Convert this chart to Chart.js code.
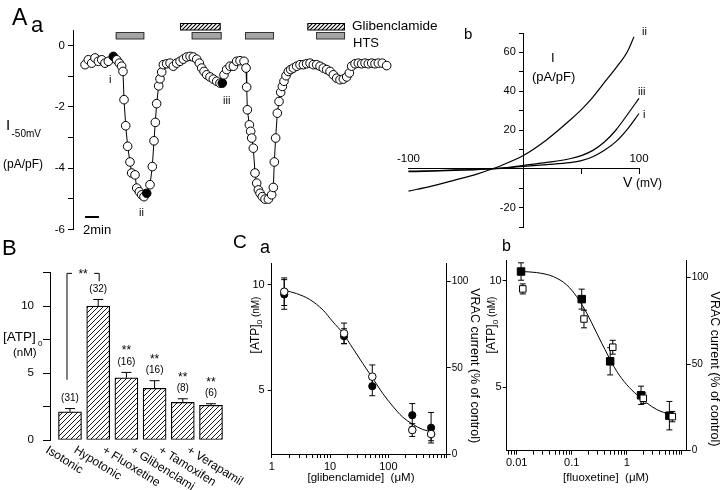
<!DOCTYPE html>
<html><head><meta charset="utf-8">
<script src="https://cdn.jsdelivr.net/npm/chart.js@4.4.1/dist/chart.umd.min.js"></script>
<style>
html,body{margin:0;padding:0;background:#fff;}
#wrap{position:relative;width:720px;height:490px;overflow:hidden;background:#fff;}
canvas{position:absolute;left:0;top:0;}
</style></head><body><div id="wrap"></div>
<script>
// ===== Panel A a : I(-50 mV) time course =====
const timeA = [0.29,0.76,1.24,1.71,2.19,2.67,3.14,3.62,4.33,4.81,
5.19,5.52,5.71,5.86,6.10,6.38,6.71,6.95,7.43,7.67,
8.05,8.38,8.71,9.10,9.57,9.90,10.14,10.33,10.52,10.81,
11.00,11.24,11.48,11.95,12.43,12.90,13.38,13.86,14.33,14.81,
15.29,15.76,16.24,16.62,16.95,17.29,17.67,18.14,18.62,19.10,
19.57,19.90,20.14,20.52,21.00,21.48,21.95,22.43,23.00,23.29,
23.38,23.48,23.76,23.95,24.10,24.33,24.57,24.81,25.05,25.29,
25.62,26.00,26.48,26.95,27.19,27.33,27.52,27.76,28.00,28.24,
28.48,28.71,29.00,29.33,29.67,30.05,30.52,31.00,31.48,31.95,
32.43,32.90,33.38,33.86,34.33,34.81,35.29,35.76,36.24,36.71,
37.19,37.67,38.05,38.38,38.86,39.33,39.81,40.29,40.76,41.24,
41.71,42.19,42.76,43.38];
const currentA = [-0.63,-0.47,-0.58,-0.41,-0.52,-0.47,-0.58,-0.52,-0.36,-0.47,
-0.58,-0.68,-0.85,-1.77,-2.62,-3.29,-3.80,-4.16,-4.22,-4.65,
-4.77,-4.87,-4.93,-4.82,-4.54,-3.95,-3.11,-2.51,-1.90,-1.32,
-1.09,-0.87,-0.63,-0.60,-0.58,-0.68,-0.58,-0.52,-0.45,-0.38,
-0.36,-0.38,-0.45,-0.58,-0.74,-0.85,-0.96,-1.03,-1.10,-1.17,
-1.23,-1.23,-0.96,-0.79,-0.68,-0.68,-0.52,-0.50,-0.52,-0.74,
-1.36,-2.10,-2.59,-2.80,-3.02,-3.35,-4.16,-4.49,-4.71,-4.82,
-4.93,-5.01,-5.01,-4.87,-4.63,-3.80,-3.02,-2.21,-1.83,-1.53,
-1.34,-1.17,-0.99,-0.85,-0.79,-0.74,-0.68,-0.63,-0.63,-0.60,
-0.58,-0.63,-0.63,-0.68,-0.74,-0.79,-0.85,-0.96,-1.07,-1.12,
-1.10,-1.03,-0.90,-0.68,-0.60,-0.58,-0.60,-0.58,-0.60,-0.58,
-0.60,-0.58,-0.58,-0.66];
const markedA = [8, 23, 51];           // filled points i, ii, iii
const htsPeriods = [[4.67,8.76],[15.52,19.81],[23.14,27.29],[33.29,37.43]];
const glibPeriods = [[13.86,19.67],[32.05,37.43]];
const scaleBarMin = 2;
const yTicksA = [-6,-5,-4,-3,-2,-1,0];
const yTickLabelsA = [-6,-4,-2,0];

// ===== Panel A b : I-V curves =====
const vII = [-100,-80,-60,-40,-27,-20,0,20,40,50,60,70,80,90,95.6];
const iII = [-11.5,-8.9,-5.8,-2.6,0,1.6,7,15,25,30.5,37,44.5,52,60.5,68];
const vI  = [-100,-80,-60,-40,-20,0,20,40,50,60,70,80,90,100];
const iI   = [-1.5,-1.2,-0.8,-0.4,0.2,1.3,2.2,3.2,4.2,6.2,9.5,14,20.5,28.5];
const iIII = [-1.2,-1.0,-0.6,-0.3,0.3,1.8,3.3,5.2,6.8,9.5,13.8,20,28,36.3];
const yTicksAb = [-30,-20,-10,10,20,30,40,50,60,70];
const yTickLabelsAb = [60,40,20,-20];
const xTicksAb = [50,100];
const xTickLabelsAb = [-100,100];

// ===== Panel B : [ATP]o bars =====
const categoriesB = ['Isotonic','Hypotonic','+ Fluoxetine','+ Glibenclami','+ Tamoxifen','+ Verapamil'];
const atpB = [2.1, 10.0, 4.65, 3.86, 2.81, 2.59];
const errB = [0.25, 0.5, 0.4, 0.57, 0.27, 0.12];
const nB = ['(31)','(32)','(16)','(16)','(8)','(6)'];
const sigB = ['','','**','**','**','**'];
const yTicksB = [0,2.5,5,7.5,10,12.5];
const yTickLabelsB = [0,5,10];

// ===== Panel C a : glibenclamide =====
const glibConc = [1.64, 17.4, 53, 257, 540];
const glibATP = [9.53, 7.56, 5.2, 3.83, 3.24];
const glibATPerr = [0.7, 0.35, 0.45, 0.55, 0.72];
const glibVRAC = [94.2, 70.0, 44.9, 13.9, 11.6];
const glibVRACerr = [8, 6, 6.8, 3.7, 3.9];
const fitGlibX = [1.64,2.67,4.5,7.6,11.2,16.7,24.7,36.5,54,80,118.5,175,260,385,570];
const fitGlibY = [9.73,9.57,9.29,8.79,8.24,7.69,6.98,6.27,5.57,4.86,4.26,3.75,3.41,3.16,3.05];
const xTickValsCa = [1,10,100];
const xTickLabelsCa = ['1','10','100'];

// ===== Panel C b : fluoxetine =====
const fluoConcATP = [0.012, 0.152, 0.50, 1.82, 5.96];
const fluoATP = [10.44, 9.14, 6.21, 4.61, 3.65];
const fluoATPerr = [0.41, 0.47, 0.64, 0.43, 0.67];
const fluoConcVRAC = [0.0129, 0.167, 0.557, 2.0, 6.74];
const fluoVRAC = [93.5, 76.1, 59.8, 30.3, 19.7];
const fluoVRACerr = [2.9, 5.1, 4, 3, 3];
const fitFluoX = [0.012,0.0231,0.0464,0.081,0.123,0.1875,0.285,0.433,0.658,1.0,1.52,2.31,3.51,6.14];
const fitFluoY = [10.44,10.39,10.2,9.81,9.26,8.48,7.54,6.6,5.74,5.11,4.64,4.25,3.94,3.70];
const xTickValsCb = [0.01,0.1,1];
const xTickLabelsCb = ['0.01','0.1','1'];

const yTicksC = [5,10];
const y2TicksC = [0,50,100];

// ===== helpers =====
const FONT = "'Liberation Sans', Arial, Helvetica, sans-serif";
Chart.defaults.font.family = FONT;
Chart.defaults.color = '#000';

function mkCanvas(){ const c=document.createElement('canvas'); c.width=720; c.height=490; c.style.width='720px'; c.style.height='490px'; document.getElementById('wrap').appendChild(c); return c; }
// plot rectangle (l,t,r,b) in page px, with reserved axis sizes lw (left), rw (right), bh (bottom)
function pad(l,t,r,b,lw,rw,bh){ return {left:l-(lw||0), top:t, right:720-r-(rw||0), bottom:490-b-(bh||0)}; }
function T(ctx, s, x, y, size, o){ o=o||{}; ctx.save(); ctx.font=(o.weight||'normal')+' '+size+'px '+FONT; ctx.fillStyle='#000'; ctx.textAlign=o.align||'left'; ctx.textBaseline=o.baseline||'alphabetic'; if(o.rotate){ctx.translate(x,y);ctx.rotate(o.rotate);ctx.fillText(s,0,0);} else ctx.fillText(s,x,y); ctx.restore(); }
const setW = w => s => { s.width = w; };
const setH = h => s => { s.height = h; };
const fixTicks = arr => s => { s.ticks = arr.map(v=>({value:v})); };
const near = (a,b) => Math.abs(a-b) < 1e-9*Math.max(1,Math.abs(b));
function labelFrom(vals, labels){ return v => { const i = vals.findIndex(t=>near(v,t)); return i>=0 ? String(labels[i]) : ''; }; }
function axisStyle(tl){ return { border:{display:true,color:'#000',width:1}, grid:{display:true, drawOnChartArea:false, drawTicks:true, tickLength:tl, color:'#000', lineWidth:1} }; }
function logTicks(min,max){ const out=[]; for(let e=-4;e<=4;e++){ for(let m=1;m<=9;m++){ const v=parseFloat((m*Math.pow(10,e)).toPrecision(6)); if(v>=min-1e-12 && v<=max+1e-12) out.push(v);} } return out; }
function baseOpts(padding, scales){ return {responsive:false, animation:false, events:[], layout:{padding}, plugins:{legend:{display:false}, tooltip:{enabled:false}}, scales}; }
function hatch(size, lw){ const c=document.createElement('canvas'); c.width=size; c.height=size; const g=c.getContext('2d'); g.fillStyle='#fff'; g.fillRect(0,0,size,size); g.strokeStyle='#000'; g.lineWidth=lw; g.beginPath(); g.moveTo(-1,size+1); g.lineTo(size+1,-1); g.moveTo(-1,1); g.lineTo(1,-1); g.moveTo(size-1,size+1); g.lineTo(size+1,size-1); g.stroke(); return g.createPattern(c,'repeat'); }
const hatchA = hatch(4, 1.1);
const hatchB = hatch(5, 0.9);
function errBars(ctx, xs, ys, X, Y, E, cap){ ctx.save(); ctx.strokeStyle='#000'; ctx.lineWidth=1; X.forEach((xv,i)=>{ const px=xs.getPixelForValue(xv), y1=ys.getPixelForValue(Y[i]-E[i]), y2=ys.getPixelForValue(Y[i]+E[i]); ctx.beginPath(); ctx.moveTo(px,y1); ctx.lineTo(px,y2); ctx.moveTo(px-cap,y1); ctx.lineTo(px+cap,y1); ctx.moveTo(px-cap,y2); ctx.lineTo(px+cap,y2); ctx.stroke(); }); ctx.restore(); }
function atpLabel(ctx, cx, cy){ ctx.save(); ctx.translate(cx,cy); ctx.rotate(-Math.PI/2); ctx.textBaseline='middle'; ctx.fillStyle='#000';
  ctx.font='12px '+FONT; const w1=ctx.measureText('[ATP]').width; ctx.font='8px '+FONT; const w2=ctx.measureText('0').width; ctx.font='10px '+FONT; const w3=ctx.measureText(' (nM)').width;
  let x=-(w1+w2+w3)/2; ctx.font='12px '+FONT; ctx.fillText('[ATP]',x,0); x+=w1; ctx.font='8px '+FONT; ctx.fillText('0',x,4); x+=w2; ctx.font='10px '+FONT; ctx.fillText(' (nM)',x,0); ctx.restore(); }

// ===== Chart A a =====
const annAa = { id:'annAa', afterDraw(chart){
  const ctx=chart.ctx, xs=chart.scales.x;
  glibPeriods.forEach(([a,b])=>{ const x1=xs.getPixelForValue(a), x2=xs.getPixelForValue(b); ctx.save(); ctx.fillStyle=hatchA; ctx.fillRect(x1,23.5,x2-x1,6.5); ctx.strokeStyle='#000'; ctx.lineWidth=1; ctx.strokeRect(x1+0.5,23.5,x2-x1-1,6.5); ctx.restore(); });
  htsPeriods.forEach(([a,b])=>{ const x1=xs.getPixelForValue(a), x2=xs.getPixelForValue(b); ctx.save(); ctx.fillStyle='#a4a4a4'; ctx.fillRect(x1,32.5,x2-x1,6.5); ctx.strokeStyle='#333'; ctx.lineWidth=1; ctx.strokeRect(x1+0.5,32.5,x2-x1-1,6.5); ctx.restore(); });
  const sb0 = 85, sbw = xs.getPixelForValue(scaleBarMin)-xs.getPixelForValue(0);
  ctx.save(); ctx.fillStyle='#000'; ctx.fillRect(sb0,216,sbw,2); ctx.restore();
  T(ctx,'A',12,25,23); T(ctx,'a',31,31.5,22);
  T(ctx,'I',6,130,15); T(ctx,'-50mV',11.5,137,10);
  T(ctx,'(pA/pF)',3,167.5,12);
  T(ctx,'i',109,83,11); T(ctx,'ii',139,216,11); T(ctx,'iii',223,104,11);
  T(ctx,'Glibenclamide',352,29.5,13.5); T(ctx,'HTS',353,46.5,13);
  T(ctx,'2min',83,233.5,13);
}};
new Chart(mkCanvas(), { type:'line',
  data:{ datasets:[{ data: timeA.map((t,i)=>({x:t,y:currentA[i]})), borderColor:'#000', borderWidth:1, tension:0,
    pointRadius:4.3, pointBorderWidth:1, pointBorderColor:'#000', pointBackgroundColor: timeA.map((t,i)=>markedA.includes(i)?'#000':'#fff'), clip:false }]},
  options: baseOpts(pad(73,30,395,229.5,60,0,0), {
    x:{type:'linear', display:false, min:-1.43, max:44.57},
    y:{type:'linear', min:-6, max:0.5, afterFit:setW(60), afterBuildTicks:fixTicks(yTicksA), ...axisStyle(5),
       ticks:{padding:3, font:{size:11.5}, autoSkip:false, callback:labelFrom(yTickLabelsA, yTickLabelsA)}}
  }),
  plugins:[annAa]
});

// ===== Chart A b =====
const annAb = { id:'annAb', afterDraw(chart){
  const ctx=chart.ctx, xs=chart.scales.x, ys=chart.scales.y;
  const x0=xs.getPixelForValue(0), y0=ys.getPixelForValue(0);
  yTickLabelsAb.forEach(v=>T(ctx,String(v),x0-8,ys.getPixelForValue(v),11,{align:'right',baseline:'middle'}));
  xTickLabelsAb.forEach(v=>T(ctx,String(v),xs.getPixelForValue(v),y0-7,11.5,{align:'center'}));
  T(ctx,'b',464,39,15);
  T(ctx,'I',551,62,13); T(ctx,'(pA/pF)',532,81,13);
  T(ctx,'ii',642,35,11); T(ctx,'iii',638,95,11); T(ctx,'i',643,118,11);
  T(ctx,'V',623,187,14); T(ctx,'(mV)',636,187,12);
}};
const ivSet = (V,I) => ({ data:V.map((v,i)=>({x:v,y:I[i]})), borderColor:'#000', borderWidth:1.2, pointRadius:0, cubicInterpolationMode:'monotone', clip:false });
new Chart(mkCanvas(), { type:'line',
  data:{ datasets:[ ivSet(vI,iI), ivSet(vII,iII), ivSet(vI,iIII) ]},
  options: baseOpts(pad(408.5,33,639,227), {
    x:{type:'linear', min:-100, max:100, position:{y:0}, afterFit:setH(0), afterBuildTicks:fixTicks(xTicksAb), ...axisStyle(5), ticks:{display:false}},
    y:{type:'linear', min:-30, max:70, position:{x:0}, afterFit:setW(0), afterBuildTicks:fixTicks(yTicksAb), ...axisStyle(4), ticks:{display:false}}
  }),
  plugins:[annAb]
});

// ===== Chart B =====
const annB = { id:'annB', afterDraw(chart){
  const ctx=chart.ctx, xs=chart.scales.x, ys=chart.scales.y;
  ctx.save(); ctx.strokeStyle='#000'; ctx.lineWidth=1;
  atpB.forEach((v,i)=>{ const px=xs.getPixelForValue(i), y1=ys.getPixelForValue(v), y2=ys.getPixelForValue(v+errB[i]);
    ctx.beginPath(); ctx.moveTo(px,y1); ctx.lineTo(px,y2); ctx.moveTo(px-5,y2); ctx.lineTo(px+5,y2); ctx.stroke(); });
  const bx1=xs.getPixelForValue(0)-3, bx2=xs.getPixelForValue(1)+1, by=ys.getPixelForValue(12.45);
  ctx.beginPath(); ctx.moveTo(bx1,ys.getPixelForValue(4.5)); ctx.lineTo(bx1,by); ctx.lineTo(bx1+5,by);
  ctx.moveTo(bx2-5,by); ctx.lineTo(bx2,by); ctx.lineTo(bx2,ys.getPixelForValue(11.85)); ctx.stroke();
  ctx.restore();
  T(ctx,'**',(bx1+bx2)/2,by+5,12,{align:'center'});
  atpB.forEach((v,i)=>{ const px=xs.getPixelForValue(i), yt=ys.getPixelForValue(v+errB[i]);
    T(ctx,nB[i],px,yt-10.5,10,{align:'center',baseline:'middle'});
    if(sigB[i]) T(ctx,sigB[i],px,yt-18,12,{align:'center',baseline:'alphabetic'});
  });
  categoriesB.forEach((c,i)=>{ const px=xs.getPixelForValue(i); T(ctx,c,px-20,444,12,{rotate:32*Math.PI/180, baseline:'top'}); });
  T(ctx,'B',2,255,22);
  T(ctx,'[ATP]',3,341,13.5); T(ctx,'0',38,346,8); T(ctx,'(nM)',13,356,11.5);
}};
new Chart(mkCanvas(), { type:'bar',
  data:{ datasets:[{ data: atpB.map((v,i)=>({x:i,y:v})), backgroundColor:hatchB, borderColor:'#000', borderWidth:1.2, borderSkipped:false, barThickness:23 }]},
  options: baseOpts(pad(50,272.7,230,440,45,0,0), {
    x:{type:'linear', display:false, offset:false, min:-0.709, max:5.674},
    y:{type:'linear', min:0, max:12.5, afterFit:setW(45), afterBuildTicks:fixTicks(yTicksB), ...axisStyle(7),
       ticks:{padding:9, font:{size:11.5}, autoSkip:false, callback:labelFrom(yTickLabelsB, yTickLabelsB)}}
  }),
  plugins:[annB]
});

// ===== Chart C a & C b =====
function cChart(cfg){
  const ann = { id:'annC', beforeDatasetsDraw(chart){
      const xs=chart.scales.x;
      errBars(chart.ctx, xs, chart.scales.y, cfg.atpX, cfg.atpY, cfg.atpE, 3);
      errBars(chart.ctx, xs, chart.scales.y2, cfg.vX, cfg.vY, cfg.vE, 3);
    },
    afterDraw(chart){ cfg.texts(chart.ctx); } };
  const P = cfg.plot;
  new Chart(mkCanvas(), { type:'line',
    data:{ datasets:[
      { data: cfg.fitX.map((x,i)=>({x, y:cfg.fitY[i]})), yAxisID:'y', borderColor:'#000', borderWidth:1, pointRadius:0, cubicInterpolationMode:'monotone', order:3, clip:false },
      { data: cfg.atpX.map((x,i)=>({x, y:cfg.atpY[i]})), yAxisID:'y', showLine:false, pointStyle:cfg.style, pointRadius:cfg.rFill, pointBackgroundColor:'#000', pointBorderColor:'#000', pointBorderWidth:1, order:2, clip:false },
      { data: cfg.vX.map((x,i)=>({x, y:cfg.vY[i]})), yAxisID:'y2', showLine:false, pointStyle:cfg.style, pointRadius:cfg.rOpen, pointBackgroundColor:'#fff', pointBorderColor:'#000', pointBorderWidth:1, order:1, clip:false }
    ]},
    options: baseOpts(pad(P[0],P[1],P[2],P[3],30,30,25), {
      x:{type:'logarithmic', min:cfg.xmin, max:cfg.xmax, afterFit:setH(25), afterBuildTicks:fixTicks(logTicks(cfg.xmin,cfg.xmax)), ...axisStyle(4),
         ticks:{padding:2, font:{size:11}, autoSkip:false, maxRotation:0, minRotation:0, callback:labelFrom(cfg.xVals,cfg.xLabels)}},
      y:{type:'linear', position:'left', min:2, max:cfg.ymax, afterFit:setW(30), afterBuildTicks:fixTicks(yTicksC), ...axisStyle(4),
         ticks:{padding:cfg.lp, font:{size:11}, autoSkip:false, callback:v=>String(v)}},
      y2:{type:'linear', position:'right', min:0, max:cfg.y2max, afterFit:setW(30), afterBuildTicks:fixTicks(y2TicksC), ...axisStyle(4),
         ticks:{padding:cfg.rp, font:{size:10}, autoSkip:false, callback:v=>String(v)}}
    }),
    plugins:[ann]
  });
}
cChart({ plot:[271.7,263.3,446.7,454], xmin:1, xmax:1000, ymax:11, y2max:110.7, lp:3, rp:1,
  xVals:xTickValsCa, xLabels:xTickLabelsCa, style:'circle', rFill:3.6, rOpen:3.8,
  atpX:glibConc, atpY:glibATP, atpE:glibATPerr, vX:glibConc, vY:glibVRAC, vE:glibVRACerr, fitX:fitGlibX, fitY:fitGlibY,
  texts(ctx){ T(ctx,'C',233,248,19); T(ctx,'a',260,253,18); atpLabel(ctx,256,325);
    T(ctx,'VRAC current (% of control)',474.5,365.7,12.5,{align:'center',baseline:'middle',rotate:Math.PI/2});
    T(ctx,'[glibenclamide]  (\u03bcM)',361,481,11.5,{align:'center'}); } });
cChart({ plot:[506.7,260.7,686.7,450.7], xmin:0.00658, xmax:12.3, ymax:10.95, y2max:109.8, lp:1, rp:1,
  xVals:xTickValsCb, xLabels:xTickLabelsCb, style:'rect', rFill:5.3, rOpen:4.6,
  atpX:fluoConcATP, atpY:fluoATP, atpE:fluoATPerr, vX:fluoConcVRAC, vY:fluoVRAC, vE:fluoVRACerr, fitX:fitFluoX, fitY:fitFluoY,
  texts(ctx){ T(ctx,'b',502,251,16); atpLabel(ctx,492,325);
    T(ctx,'VRAC current (% of control)',714.5,369,12.5,{align:'center',baseline:'middle',rotate:Math.PI/2});
    T(ctx,'[fluoxetine]  (\u03bcM)',606,481,11.5,{align:'center'}); } });
</script></body></html>
